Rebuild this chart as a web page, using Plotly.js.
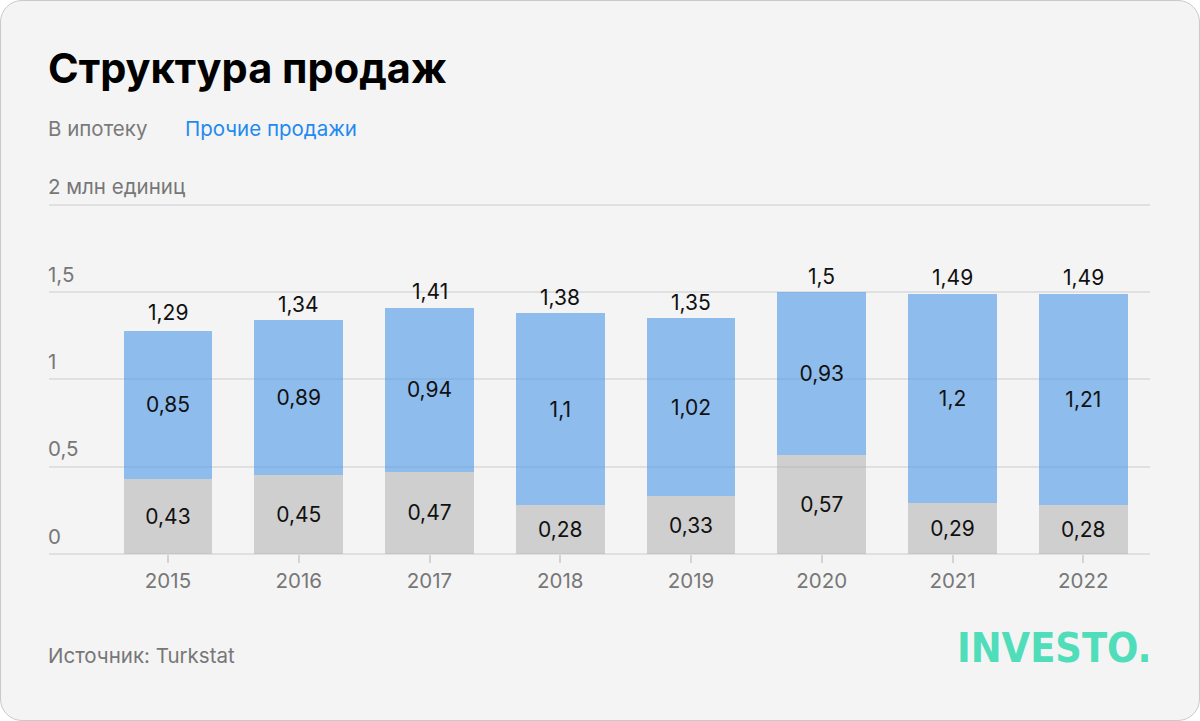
<!DOCTYPE html>
<html>
<head>
<meta charset="utf-8">
<script src="https://cdn.plot.ly/plotly-3.0.1.min.js"></script>
<style>
  html, body { margin: 0; padding: 0; background: #ffffff; }
  #card {
    position: absolute; left: 0; top: 0;
    width: 1198px; height: 719px;
    border: 1px solid #c9c9c9; border-radius: 22px;
    background: #f4f4f4;
  }
  #chart { position: absolute; left: 0; top: 0; width: 1200px; height: 721px; }
</style>
</head>
<body>
<div id="card"></div>
<div id="chart"></div>
<script>
// data, million units
const years = ['2015', '2016', '2017', '2018', '2019', '2020', '2021', '2022'];
const mortgage = [0.43, 0.45, 0.47, 0.28, 0.33, 0.57, 0.29, 0.28];
const otherSales = [0.85, 0.89, 0.94, 1.1, 1.02, 0.93, 1.2, 1.21];
const totals = [1.29, 1.34, 1.41, 1.38, 1.35, 1.5, 1.49, 1.49];
const yTicks = [0, 0.5, 1, 1.5, 2];
const yTickText = ['0', '0,5', '1', '1,5', '2 млн единиц'];

const fmt = v => String(v).replace('.', ',');
const font = 'Inter, "Open Sans", sans-serif';

// plot area in pixels
const L = 49, R = 50, T = 170, B = 167;
const W = 1200 - L - R, H = 721 - T - B;

const barMortgage = {
  x: years,
  y: mortgage,
  name: 'В ипотеку',
  type: 'bar',
  width: 0.68,
  marker: { color: 'rgba(170,170,170,0.5)' },
  text: mortgage.map(fmt),
  textposition: 'inside',
  insidetextanchor: 'middle',
  constraintext: 'none',
  textfont: { family: font, size: 21, color: '#111111' },
  hoverinfo: 'skip'
};

const barOther = {
  x: years,
  y: otherSales,
  name: 'Прочие продажи',
  type: 'bar',
  width: 0.68,
  marker: { color: 'rgba(74,150,230,0.6)' },
  text: otherSales.map(fmt),
  textposition: 'inside',
  insidetextanchor: 'middle',
  constraintext: 'none',
  textfont: { family: font, size: 21, color: '#111111' },
  hoverinfo: 'skip'
};

// total labels above each bar (x as category index)
const totalNotes = totals.map((t, i) => ({
  x: i, y: t, xref: 'x', yref: 'y',
  text: fmt(t), showarrow: false,
  yanchor: 'middle', yshift: 16,
  font: { family: font, size: 21, color: '#111111' }
}));

// y tick labels sit above their grid lines, at the left edge
const yTickNotes = yTicks.map((v, i) => ({
  x: 0, y: v, xref: 'paper', yref: 'y',
  text: yTickText[i], showarrow: false,
  xanchor: 'left', yanchor: 'middle', xshift: -3, yshift: 18,
  font: { family: font, size: 20.5, color: '#777777' }
}));

// header and footer texts, given in pixels
const px = (a, x, y, anchor) => Object.assign({
  xref: 'paper', yref: 'paper', showarrow: false,
  x: (x - L) / W, y: (721 - B - y) / H,
  xanchor: anchor || 'left', yanchor: 'middle'
}, a);

const headNotes = [
  px({ text: '<b>Структура продаж</b>', font: { family: font, size: 41.5, color: '#000000' } }, 46, 68),
  px({ text: 'В ипотеку', font: { family: font, size: 20.5, color: '#7a7a7a' } }, 46, 128),
  px({ text: 'Прочие продажи', font: { family: font, size: 20.5, color: '#1f8af0' } }, 183, 128),
  px({ text: 'Источник: Turkstat', font: { family: font, size: 20.5, color: '#777777' } }, 46, 655),
  px({ text: '<b>INVESTO.</b>', font: { family: '"DejaVu Sans Condensed", "DejaVu Sans", sans-serif', size: 41, color: '#50ddb9' } }, 1154, 648, 'right')
];

const layout = {
  width: 1200,
  height: 721,
  paper_bgcolor: 'rgba(0,0,0,0)',
  plot_bgcolor: 'rgba(0,0,0,0)',
  margin: { l: L, r: R, t: T, b: B },
  barmode: 'stack',
  showlegend: false,
  font: { family: font, color: '#777777' },
  xaxis: {
    type: 'category',
    range: [-0.91, 7.51],
    showgrid: false,
    zeroline: false,
    showline: false,
    ticks: 'outside',
    ticklen: 8,
    tickwidth: 2,
    tickcolor: '#d4d4d4',
    tickfont: { family: font, size: 20.5, color: '#777777' },
    fixedrange: true
  },
  yaxis: {
    range: [0, 2.2],
    tickvals: yTicks,
    showticklabels: false,
    showgrid: true,
    gridcolor: '#e0e0e0',
    gridwidth: 2,
    zeroline: true,
    zerolinecolor: '#e0e0e0',
    zerolinewidth: 2,
    showline: false,
    fixedrange: true
  },
  annotations: headNotes.concat(yTickNotes, totalNotes)
};

Plotly.newPlot('chart', [barMortgage, barOther], layout, { displayModeBar: false, staticPlot: true });
</script>
</body>
</html>
